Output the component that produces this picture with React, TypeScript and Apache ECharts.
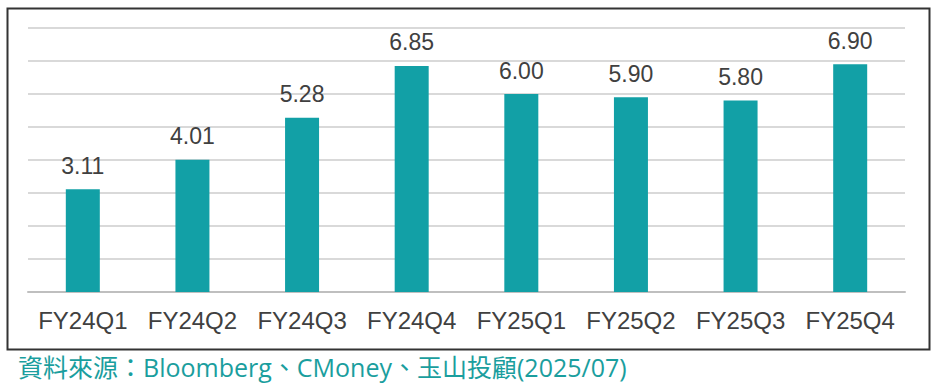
import React, { useEffect, useRef } from "react";
import * as echarts from "echarts";

const categories = ["FY24Q1", "FY24Q2", "FY24Q3", "FY24Q4", "FY25Q1", "FY25Q2", "FY25Q3", "FY25Q4"];
const values = [3.11, 4.01, 5.28, 6.85, 6.0, 5.9, 5.8, 6.9];
const sourceText = "資料來源：Bloomberg、CMoney、玉山投顧(2025/07)";

export default function App() {
  const ref = useRef<HTMLDivElement>(null);
  useEffect(() => {
    if (!ref.current) return;
    const chart = echarts.init(ref.current, null, { renderer: "svg" });
    chart.setOption({
      animation: false,
      backgroundColor: "#ffffff",
      grid: { left: 28, right: 31, top: 28, bottom: 98 },
      xAxis: {
        type: "category",
        data: categories,
        axisLine: { lineStyle: { color: "#bfbfbf", width: 2 } },
        axisTick: { show: false },
        axisLabel: {
          interval: 0,
          hideOverlap: false,
          color: "#404040",
          fontSize: 24,
          fontFamily: "Liberation Sans, Arial, sans-serif",
          margin: 16,
        },
      },
      yAxis: {
        type: "value",
        min: 0,
        max: 8,
        interval: 1,
        axisLabel: { show: false },
        axisLine: { show: false },
        axisTick: { show: false },
        splitLine: { lineStyle: { color: "#d9d9d9", width: 2 } },
      },
      series: [
        {
          type: "bar",
          data: values,
          barWidth: 34,
          itemStyle: { color: "#12a0a6" },
          label: {
            show: true,
            position: "top",
            distance: 12,
            color: "#404040",
            fontSize: 23,
            fontFamily: "Liberation Sans, Arial, sans-serif",
            formatter: (p: any) => Number(p.value).toFixed(2),
          },
        },
      ],
      graphic: [
        {
          type: "rect",
          left: 5,
          top: 6,
          shape: { x: 0, y: 0, width: 922, height: 341 },
          style: { fill: "none", stroke: "#333333", lineWidth: 2 },
          silent: true,
        },
        {
          type: "text",
          left: 18,
          top: 354,
          style: {
            text: sourceText,
            fill: "#1a9e9e",
            fontSize: 25,
            fontFamily: "Open Sans, Noto Sans CJK TC, sans-serif",
          },
        },
      ],
    });
    return () => chart.dispose();
  }, []);
  return (
    <div
      ref={ref}
      style={{ position: "fixed", left: 0, top: 0, width: 936, height: 390 }}
    />
  );
}
